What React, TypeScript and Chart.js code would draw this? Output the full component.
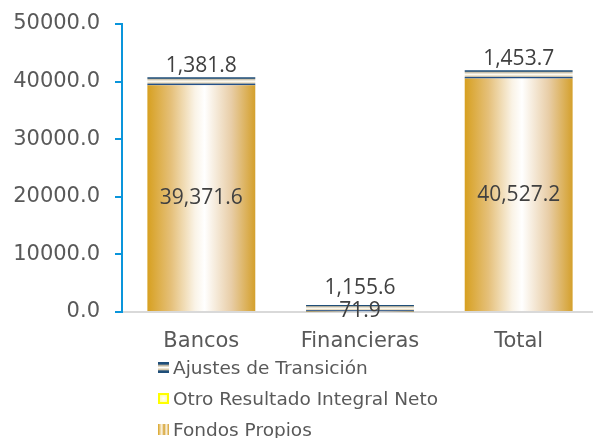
import React, { useEffect, useRef } from "react";
import { Chart, registerables } from "chart.js";

Chart.register(...registerables);

const categories = ["Bancos", "Financieras", "Total"];
const fondosPropios = [39371.6, 71.9, 40527.2];
const otroResultadoIntegral = [0, 0, 0];
const ajustesTransicion = [1381.8, 1155.6, 1453.7];
const seriesNames = ["Fondos Propios", "Otro Resultado Integral Neto", "Ajustes de Transición"];
const yMin = 0;
const yMax = 50000;
const yStep = 10000;

const BAR_PCT = 0.68;
const AXIS_BLUE = "#0A95DB";
const TEXT_GREY = "#595959";
const LABEL_GREY = "#404040";

const fmt = (v: number) =>
  v.toLocaleString("en-US", { minimumFractionDigits: 1, maximumFractionDigits: 1 });

function barWidth(chart: any) {
  const xs = chart.scales.x;
  return (xs.width / categories.length) * BAR_PCT;
}

function fondosFill(c: any) {
  const chart = c.chart;
  const xs = chart.scales && chart.scales.x;
  if (!xs || c.dataIndex === undefined || !chart.chartArea) return "#D9A42A";
  const cx = xs.getPixelForValue(c.dataIndex);
  const w = barWidth(chart);
  const g = chart.ctx.createLinearGradient(cx - w / 2, 0, cx + w / 2, 0);
  g.addColorStop(0, "#D7A020");
  g.addColorStop(0.22, "#E5C07A");
  g.addColorStop(0.44, "#FAF3E6");
  g.addColorStop(0.53, "#FFFFFF");
  g.addColorStop(0.78, "#E8CDA6");
  g.addColorStop(1, "#D4A02C");
  return g;
}

function ajustesFill(c: any) {
  const chart = c.chart;
  const ys = chart.scales && chart.scales.y;
  if (!ys || c.dataIndex === undefined || !chart.chartArea) return "#1F4E79";
  const i = c.dataIndex;
  const base = fondosPropios[i] + otroResultadoIntegral[i];
  const top = ys.getPixelForValue(base + ajustesTransicion[i]);
  const bottom = ys.getPixelForValue(base);
  const g = chart.ctx.createLinearGradient(0, top, 0, bottom);
  g.addColorStop(0, "#1F4E79");
  g.addColorStop(0.13, "#1F4E79");
  g.addColorStop(0.25, "#C4BAA3");
  g.addColorStop(0.5, "#FFFDF6");
  g.addColorStop(0.74, "#E0D2B4");
  g.addColorStop(0.86, "#24518A");
  g.addColorStop(1, "#24518A");
  return g;
}

function otroFill(c: any) {
  return "#FFFF66";
}

const labelPlugin = {
  id: "valueLabels",
  afterDatasetsDraw(chart: any) {
    const ctx = chart.ctx;
    ctx.save();
    ctx.font = '21px "Open Sans"';
    ctx.fillStyle = LABEL_GREY;
    ctx.textAlign = "center";
    ctx.textBaseline = "middle";
    const m0 = chart.getDatasetMeta(0);
    const innerY: number[] = [];
    m0.data.forEach((el: any, i: number) => {
      const y = (el.y + el.base) / 2;
      innerY[i] = y;
      ctx.fillText(fmt(fondosPropios[i]), el.x, y);
    });
    const m2 = chart.getDatasetMeta(2);
    m2.data.forEach((el: any, i: number) => {
      const y = Math.min(el.y - 11, innerY[i] - 23);
      ctx.fillText(fmt(ajustesTransicion[i]), el.x, y);
    });
    ctx.restore();
  },
};

export default function App() {
  const ref = useRef<HTMLCanvasElement>(null);
  useEffect(() => {
    if (!ref.current) return;
    const chart = new Chart(ref.current, {
      type: "bar",
      data: {
        labels: categories,
        datasets: [
          { label: seriesNames[0], data: fondosPropios, backgroundColor: fondosFill, borderWidth: 0 },
          { label: seriesNames[1], data: otroResultadoIntegral, backgroundColor: otroFill, borderWidth: 0 },
          { label: seriesNames[2], data: ajustesTransicion, backgroundColor: ajustesFill, borderWidth: 0 },
        ],
      },
      options: {
        responsive: false,
        animation: false,
        events: [],
        datasets: { bar: { barPercentage: BAR_PCT, categoryPercentage: 1 } },
        layout: { padding: { left: 0, right: 2, top: 24, bottom: 82 } },
        plugins: { legend: { display: false }, tooltip: { enabled: false } },
        scales: {
          x: {
            stacked: true,
            grid: { display: false },
            border: { display: true, color: "#D9D9D9", width: 2 },
            ticks: {
              color: TEXT_GREY,
              font: { family: '"DejaVu Sans"', size: 21 },
              padding: 9,
              maxRotation: 0,
            },
            afterFit(scale: any) {
              scale.height = 44;
              scale.paddingLeft = 0;
              scale.paddingRight = 0;
            },
          },
          y: {
            stacked: true,
            min: yMin,
            max: yMax,
            grid: {
              display: true,
              drawOnChartArea: false,
              drawTicks: true,
              tickLength: 7,
              color: AXIS_BLUE,
              lineWidth: 2,
            },
            border: { display: true, color: AXIS_BLUE, width: 2 },
            ticks: {
              stepSize: yStep,
              color: TEXT_GREY,
              font: { family: '"DejaVu Sans"', size: 21 },
              padding: 15,
              callback: (v: any) => Number(v).toFixed(1),
            },
            afterFit(scale: any) {
              scale.width = 122;
              scale.paddingTop = 0;
              scale.paddingBottom = 0;
            },
          },
        },
      },
      plugins: [labelPlugin],
    });
    return () => chart.destroy();
  }, []);

  const legendItems = [
    {
      text: seriesNames[2],
      bg: "linear-gradient(to bottom, #1F4E79 0%, #1F4E79 18%, #C2B8A2 32%, #FFFDF6 50%, #DCCDAE 68%, #1F4E79 82%, #1F4E79 100%)",
      border: "none",
    },
    {
      text: seriesNames[1],
      bg: "radial-gradient(circle, #FFFFFF 0%, #FFFFCC 50%, #FFFF99 100%)",
      border: "2px solid #FFFF00",
    },
    {
      text: seriesNames[0],
      bg: "linear-gradient(to right, #D9A322 0%, #FBF5EA 35%, #D4A02C 55%, #FBF5EA 75%, #D4A02C 100%)",
      border: "none",
    },
  ];

  return (
    <div style={{ position: "absolute", left: 0, top: 0, width: 593, height: 438, overflow: "hidden", background: "#FFFFFF" }}>
      <canvas ref={ref} width={600} height={438} style={{ position: "absolute", left: 0, top: 0, width: 600, height: 438 }} />
      <div style={{ position: "absolute", left: 158, top: 352, fontFamily: '"DejaVu Sans"', fontSize: 18.5, color: TEXT_GREY }}>
        {legendItems.map((it) => (
          <div key={it.text} style={{ display: "flex", alignItems: "center", height: 31, whiteSpace: "nowrap" }}>
            <span
              style={{
                display: "inline-block",
                width: 11,
                height: 11,
                boxSizing: "border-box",
                background: it.bg,
                border: it.border,
                marginRight: 4,
              }}
            />
            <span>{it.text}</span>
          </div>
        ))}
      </div>
    </div>
  );
}
